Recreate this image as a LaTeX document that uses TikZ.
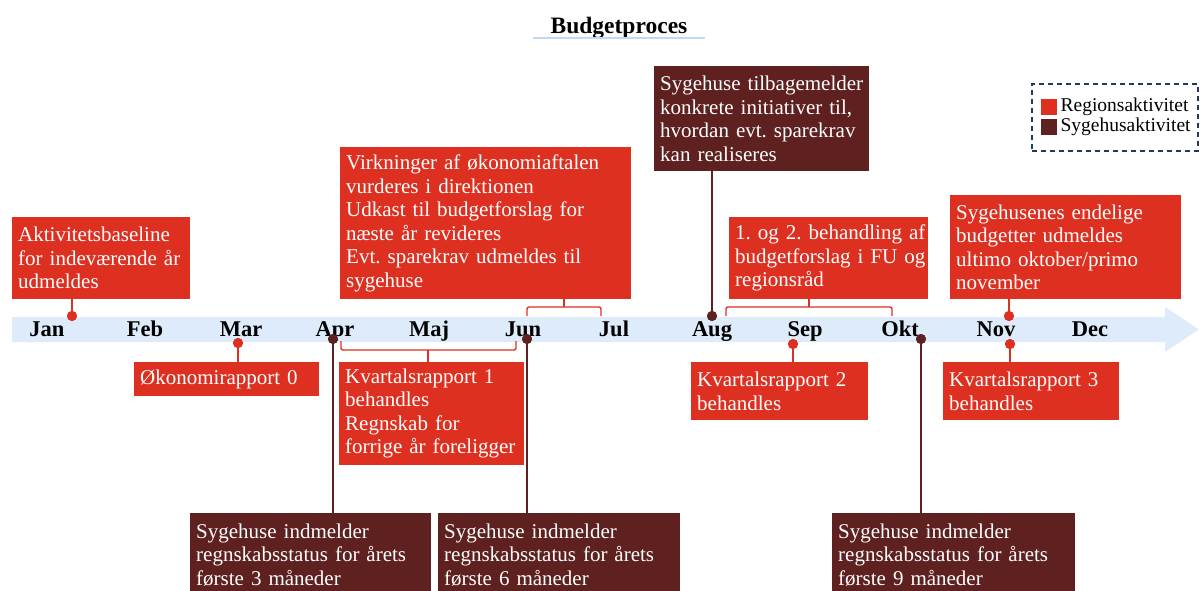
\documentclass[tikz,border=0pt]{standalone}
\usepackage{fontspec}
\setmainfont{Liberation Serif}
\frenchspacing
\definecolor{regred}{HTML}{DE3021}
\definecolor{hospdark}{HTML}{5E2120}
\definecolor{bandblue}{HTML}{DDEBFA}
\definecolor{navy}{HTML}{1F3864}
\definecolor{ulblue}{HTML}{C2DAF0}
\tikzset{
  box/.style={anchor=north west, rectangle, inner xsep=6pt, inner ysep=0pt,
    align=left, text=white, font=\fontsize{21}{23.5}\selectfont},
  rbox/.style={box, fill=regred},
  dbox/.style={box, fill=hospdark},
  rline/.style={draw=regred, line width=1.6pt},
  dline/.style={draw=hospdark, line width=1.6pt},
  rdot/.style={circle, fill=regred, minimum size=10pt, inner sep=0pt},
  ddot/.style={circle, fill=hospdark, minimum size=10pt, inner sep=0pt},
  month/.style={anchor=base, inner sep=0pt, font=\fontsize{22.5}{24}\selectfont\bfseries},
  bracket/.style={draw=regred, line width=1.4pt, rounded corners=2pt},
  legtext/.style={anchor=west, inner sep=0pt, font=\fontsize{19.5}{21}\selectfont},
}
\begin{document}
\begin{tikzpicture}[x=1pt, y=-1pt]
\useasboundingbox (0,0) rectangle (1200,590);
\clip (0,0) rectangle (1200,590);

% title
\node[anchor=base, inner sep=0pt, font=\fontsize{23.5}{25}\selectfont\bfseries] (title) at (619,33) {Budgetproces};
\draw[ulblue, line width=2pt] (533,37.5) -- (705,37.5);

% time axis
\fill[bandblue] (12,317) -- (1165,317) -- (1165,307) -- (1199,329.5)
  -- (1165,352) -- (1165,342) -- (12,342) -- cycle;
\foreach \m/\x in {Jan/47,Feb/145,Mar/241,Apr/335,Maj/429,Jun/523,Jul/614,Aug/712,Sep/805,Okt/900,Nov/996,Dec/1090}
  \node[month] (m\m) at (\x,336) {\m};

% markers on the axis
\node[rdot] (dJan) at (72,316) {};
\node[rdot] (dMar) at (238,343) {};
\node[ddot] (dApr) at (333,339) {};
\node[ddot] (dJun) at (527,339) {};
\node[ddot] (dAug) at (712,316) {};
\node[rdot] (dSep) at (793,344) {};
\node[ddot] (dOkt) at (921,339) {};
\node[rdot] (dNovA) at (1009,316) {};
\node[rdot] (dNovB) at (1010,344) {};

% activity boxes above the axis
\node[rbox, text width=166pt, minimum height=82pt] (akt) at (12,217)
  {\mbox{Aktivitetsbaseline}\\\mbox{for indeværende år}\\\mbox{udmeldes}};
\node[rbox, text width=279pt, minimum height=152pt] (virk) at (340,147)
  {\mbox{Virkninger af økonomiaftalen}\\\mbox{vurderes i direktionen}\\\mbox{Udkast til budgetforslag for}\\\mbox{næste år revideres}\\\mbox{Evt. sparekrav udmeldes til}\\\mbox{sygehuse}};
\node[dbox, text width=203pt, minimum height=105pt] (tilb) at (654,66)
  {\mbox{Sygehuse tilbagemelder}\\\mbox{konkrete initiativer til,}\\\mbox{hvordan evt. sparekrav}\\\mbox{kan realiseres}};
\node[rbox, text width=187pt, minimum height=82pt] (beh) at (729,217)
  {\mbox{1. og 2. behandling af}\\\mbox{budgetforslag i FU og}\\\mbox{regionsråd}};
\node[rbox, text width=219pt, minimum height=104pt] (endel) at (950,195)
  {\mbox{Sygehusenes endelige}\\\mbox{budgetter udmeldes}\\\mbox{ultimo oktober/primo}\\\mbox{november}};

% activity boxes below the axis
\node[rbox, text width=173pt, minimum height=34pt] (oek) at (134,362) {\mbox{Økonomirapport 0}};
\node[rbox, text width=173pt, minimum height=103pt] (kv1) at (339,362)
  {\mbox{Kvartalsrapport 1}\\\mbox{behandles}\\\mbox{Regnskab for}\\\mbox{forrige år foreligger}};
\node[rbox, text width=165pt, minimum height=58pt] (kv2) at (691,362)
  {\mbox{Kvartalsrapport 2}\\\mbox{behandles}};
\node[rbox, text width=164pt, minimum height=58pt] (kv3) at (943,362)
  {\mbox{Kvartalsrapport 3}\\\mbox{behandles}};
\node[dbox, text width=229pt, minimum height=83pt] (s3) at (190,513)
  {\mbox{Sygehuse indmelder}\\\mbox{regnskabsstatus for årets}\\\mbox{første 3 måneder}};
\node[dbox, text width=230pt, minimum height=83pt] (s6) at (438,513)
  {\mbox{Sygehuse indmelder}\\\mbox{regnskabsstatus for årets}\\\mbox{første 6 måneder}};
\node[dbox, text width=231pt, minimum height=83pt] (s9) at (832,513)
  {\mbox{Sygehuse indmelder}\\\mbox{regnskabsstatus for årets}\\\mbox{første 9 måneder}};

% stems from markers to boxes
\draw[rline] (dJan.center) -- (dJan |- akt.south);
\draw[rline] (dMar.center) -- (dMar |- oek.north);
\draw[dline] (dApr.center) -- (dApr |- s3.north);
\draw[dline] (dJun.center) -- (dJun |- s6.north);
\draw[dline] (dAug.center) -- (dAug |- tilb.south);
\draw[rline] (dSep.center) -- (dSep |- kv2.north);
\draw[dline] (dOkt.center) -- (dOkt |- s9.north);
\draw[rline] (dNovA.center) -- (dNovA |- endel.south);
\draw[rline] (dNovB.center) -- (dNovB |- kv3.north);

% brackets spanning several months
\coordinate (bAL) at (527,316); \coordinate (bAR) at (601,316); \coordinate (bAM) at (564,307);
\draw[bracket] (bAL) -- (527,307) -- (601,307) -- (bAR);
\draw[bracket] (bAM) -- (bAM |- virk.south);
\coordinate (bBL) at (341,341); \coordinate (bBR) at (516,341); \coordinate (bBM) at (428,350);
\draw[bracket] (bBL) -- (341,350) -- (516,350) -- (bBR);
\draw[bracket] (bBM) -- (bBM |- kv1.north);
\coordinate (bCL) at (726,316); \coordinate (bCR) at (892,316); \coordinate (bCM) at (809,307);
\draw[bracket] (bCL) -- (726,307) -- (892,307) -- (bCR);
\draw[bracket] (bCM) -- (bCM |- beh.south);

% redraw markers above the stems
\foreach \d in {dJan,dMar,dSep,dNovA,dNovB} \fill[regred] (\d) circle (5pt);
\foreach \d in {dApr,dJun,dAug,dOkt} \fill[hospdark] (\d) circle (5pt);

% legend
\node[draw=navy, line width=1.5pt, dash pattern=on 5pt off 4pt, anchor=north west,
  minimum width=166pt, minimum height=67pt, inner sep=0pt] (legend) at (1031,83) {};
\node[fill=regred, anchor=north west, minimum size=16pt, inner sep=0pt] (legR) at (1041,99) {};
\node[fill=hospdark, anchor=north west, minimum size=16pt, inner sep=0pt] (legD) at (1041,119) {};
\node[legtext] (legRt) at ([xshift=3pt]legR.east) {Regionsaktivitet};
\node[legtext] (legDt) at ([xshift=3pt]legD.east) {Sygehusaktivitet};
\end{tikzpicture}
\end{document}
